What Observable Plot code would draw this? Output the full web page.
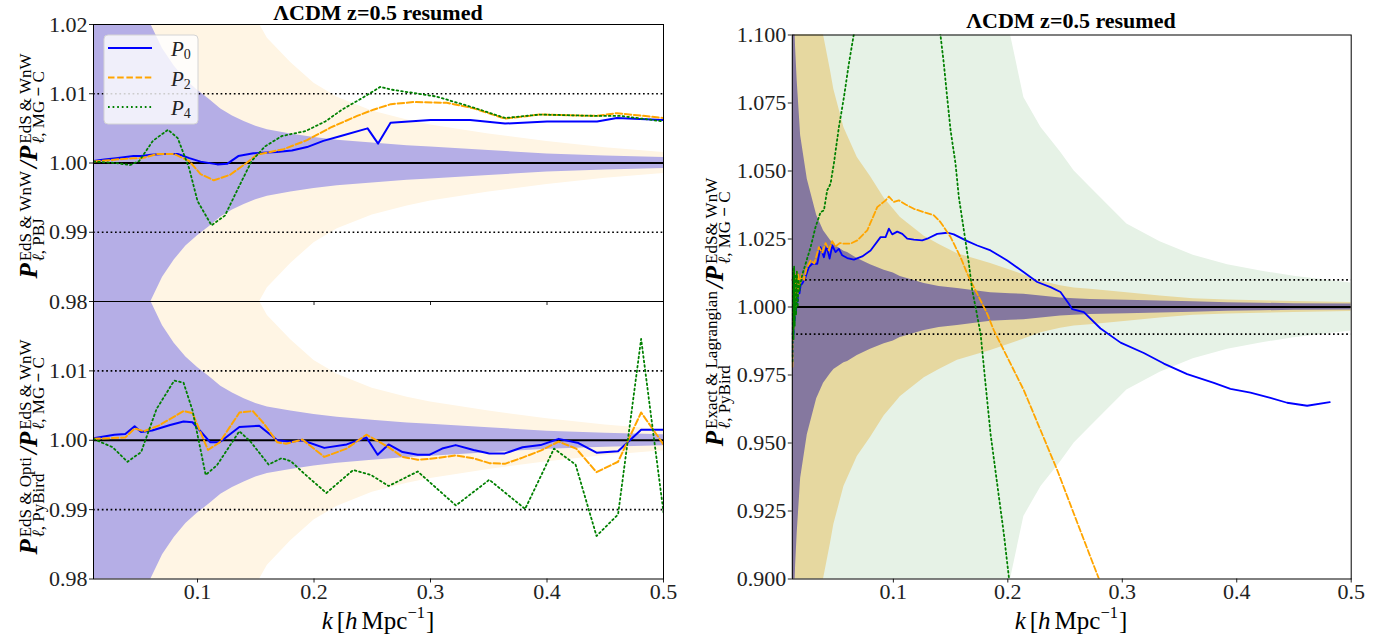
<!DOCTYPE html>
<html><head><meta charset="utf-8">
<script src="https://cdn.jsdelivr.net/npm/d3@7"></script>
<script src="https://cdn.jsdelivr.net/npm/@observablehq/plot@0.6"></script>
<style>
body{margin:0;background:#fff}
#fig{position:relative;width:1395px;height:636px;overflow:hidden;background:#fff}
#fig > svg{position:absolute;left:0;top:0}
</style>
</head><body><div id="fig"></div>
<script>
// ---------------- DATA ----------------
const xTicks = [0.1, 0.2, 0.3, 0.4, 0.5];
const yTicksTop = [0.98, 0.99, 1.00, 1.01, 1.02];
const yTicksBottom = [0.98, 0.99, 1.00, 1.01];
const yTicksRight = [0.900, 0.925, 0.950, 0.975, 1.000, 1.025, 1.050, 1.075, 1.100];
const titleText = "ΛCDM z=0.5 resumed";
const legendNames = ["0", "2", "4"];

// left panels: error bands (half widths around 1)
const kBandL = [0.0107,0.02,0.03,0.04,0.05,0.06,0.07,0.08,0.09,0.10,0.11,0.12,0.13,0.14,0.15,0.16,0.18,0.20,0.22,0.25,0.28,0.30,0.35,0.40,0.45,0.50];
const hwPurpleL = [0.06,0.045,0.036,0.03,0.024,0.020,0.0165,0.014,0.012,0.0105,0.0092,0.0078,0.0068,0.006,0.0053,0.0048,0.0042,0.0037,0.0033,0.0029,0.0025,0.0023,0.0018,0.0013,0.0010,0.0008];
const hwBeigeL = [0.12,0.1,0.085,0.072,0.062,0.054,0.047,0.042,0.037,0.033,0.03,0.027,0.0245,0.0225,0.021,0.018,0.0145,0.0115,0.0095,0.0075,0.0062,0.0055,0.0042,0.0031,0.0022,0.0015];

// right panel: error bands
const kBandR = [0.0117,0.0146,0.016,0.019,0.0248,0.033,0.039,0.045,0.048,0.0568,0.06,0.0685,0.08,0.092,0.1,0.106,0.112,0.127,0.14,0.156,0.185,0.2024,0.214,0.229,0.246,0.258,0.272,0.304,0.333,0.362,0.392,0.421,0.45,0.5];
const hwPurpleR = [0.13,0.095,0.083,0.063,0.047,0.0337,0.028,0.0245,0.023,0.0205,0.020,0.0178,0.0155,0.0135,0.0125,0.0112,0.0105,0.0086,0.0075,0.0068,0.0052,0.0049,0.0047,0.0040,0.0033,0.0030,0.0028,0.0025,0.0022,0.0019,0.0016,0.0014,0.0012,0.0011];
const hwTanR = [0.2,0.18,0.17,0.15,0.13,0.112,0.1,0.087,0.08,0.066,0.063,0.055,0.048,0.04,0.036,0.033,0.031,0.026,0.023,0.0196,0.016,0.0135,0.0118,0.0095,0.0078,0.007,0.0065,0.0052,0.004,0.003,0.0026,0.0023,0.002,0.0017];
const hwGreenR = [0.5,0.45,0.42,0.4,0.38,0.35,0.33,0.31,0.3,0.28,0.27,0.25,0.23,0.2,0.19,0.18,0.17,0.155,0.14,0.13,0.11,0.1,0.077,0.066,0.057,0.05,0.044,0.0305,0.024,0.019,0.0155,0.0132,0.0113,0.0088];

// top-left: PBJ / MG-C
const p0Top = [[0.0107,1.0003],[0.02,1.0005],[0.03,1.0007],[0.04,1.0009],[0.045,1.0010],[0.0516,1.0010],[0.06,1.0012],[0.071,1.0013],[0.083,1.0013],[0.093,1.0007],[0.1026,1.0002],[0.117,0.9998],[0.1257,0.9999],[0.135,1.0010],[0.148,1.0014],[0.168,1.0016],[0.181,1.0018],[0.194,1.0023],[0.208,1.0032],[0.223,1.0039],[0.246,1.0050],[0.255,1.0028],[0.2657,1.0058],[0.3,1.0062],[0.334,1.0062],[0.364,1.0057],[0.40,1.0060],[0.443,1.0060],[0.46,1.0065],[0.5,1.0062]];
const p2Top = [[0.0107,1.0002],[0.03,1.0005],[0.045,1.0007],[0.0526,1.0007],[0.0656,1.0013],[0.0798,1.0013],[0.0927,1.0003],[0.1026,0.9984],[0.114,0.9975],[0.128,0.9983],[0.142,1.0000],[0.151,1.0012],[0.174,1.0020],[0.194,1.0033],[0.214,1.0051],[0.237,1.0068],[0.251,1.0077],[0.266,1.0085],[0.285,1.0088],[0.314,1.0087],[0.337,1.0079],[0.364,1.0064],[0.394,1.0070],[0.443,1.0068],[0.46,1.0072],[0.5,1.0065]];
const p4Top = [[0.0107,1.0002],[0.03,1.0000],[0.042,0.9997],[0.05,1.0003],[0.0617,1.0032],[0.0746,1.0048],[0.083,1.0036],[0.0927,0.9993],[0.1,0.9945],[0.112,0.9910],[0.1235,0.9924],[0.135,0.9964],[0.1465,1.0003],[0.158,1.0024],[0.1725,1.0039],[0.1925,1.0046],[0.2097,1.0060],[0.224,1.0077],[0.2415,1.0094],[0.257,1.0110],[0.266,1.0106],[0.286,1.0101],[0.305,1.0096],[0.337,1.0080],[0.364,1.0065],[0.394,1.0070],[0.443,1.0068],[0.463,1.0068],[0.5,1.0060]];

// bottom-left: PyBird / MG-C
const p0Bot = [[0.0107,1.0003],[0.0286,1.0008],[0.038,1.0009],[0.046,1.0020],[0.0516,1.0012],[0.061,1.0014],[0.0765,1.0022],[0.088,1.0027],[0.0957,1.0026],[0.111,0.9997],[0.119,0.9997],[0.1359,1.0019],[0.153,1.0021],[0.1685,1.0000],[0.18,0.9998],[0.19,1.0000],[0.2088,0.9989],[0.228,0.9994],[0.245,1.0004],[0.2546,0.9979],[0.264,0.9994],[0.276,0.9983],[0.289,0.9979],[0.299,0.9979],[0.310,0.9988],[0.3216,0.9993],[0.337,0.9986],[0.3505,0.9981],[0.3638,0.9981],[0.379,0.9990],[0.3945,0.9993],[0.41,1.0002],[0.427,0.9996],[0.4425,0.9982],[0.461,0.9984],[0.4808,1.0015],[0.5,1.0015]];
const p2Bot = [[0.0107,1.0002],[0.038,1.0004],[0.046,1.0017],[0.054,1.0013],[0.0666,1.0021],[0.088,1.0042],[0.0957,1.0039],[0.109,0.9986],[0.119,0.9997],[0.136,1.0040],[0.1475,1.0042],[0.157,1.0024],[0.1685,0.9997],[0.176,0.9995],[0.19,1.0001],[0.2088,0.9976],[0.228,0.9988],[0.245,1.0008],[0.264,0.9990],[0.276,0.9976],[0.289,0.9972],[0.299,0.9973],[0.3216,0.9978],[0.337,0.9974],[0.3505,0.9967],[0.3638,0.9966],[0.379,0.9975],[0.3945,0.9985],[0.41,0.9998],[0.425,0.9988],[0.4425,0.9954],[0.461,0.9969],[0.4808,1.0040],[0.5,0.9994]];
const p4Bot = [[0.0107,1.0002],[0.027,0.9990],[0.0399,0.9969],[0.0516,0.9983],[0.0648,1.0045],[0.080,1.0086],[0.088,1.0083],[0.0957,1.0043],[0.107,0.9950],[0.1167,0.9964],[0.1359,1.0013],[0.1455,0.9998],[0.161,0.9965],[0.172,0.9974],[0.18,0.9970],[0.1915,0.9952],[0.2106,0.9924],[0.2336,0.9957],[0.2489,0.9950],[0.264,0.9934],[0.289,0.9955],[0.3218,0.9906],[0.3505,0.9943],[0.3812,0.9901],[0.406,0.9988],[0.4245,0.9965],[0.4425,0.9862],[0.461,0.9893],[0.4808,1.0146],[0.5,0.9896]];

// right: Exact & Lagrangian PyBird / MG-C
const p0Right = [[0.0118,0.982],[0.0123,1.010],[0.0128,0.990],[0.0133,1.012],[0.0138,0.995],[0.0143,1.008],[0.0150,0.998],[0.0157,1.010],[0.0164,1.002],[0.0172,1.012],[0.018,1.005],[0.019,1.008],[0.0204,1.0086],[0.0233,1.0110],[0.0262,1.0147],[0.0291,1.0159],[0.0335,1.0159],[0.0364,1.0220],[0.0393,1.0183],[0.0417,1.0223],[0.0443,1.0178],[0.0466,1.0226],[0.0495,1.0202],[0.0524,1.0214],[0.0553,1.0190],[0.0597,1.0180],[0.0655,1.0174],[0.0728,1.0186],[0.0801,1.0208],[0.0888,1.0257],[0.0932,1.0257],[0.0961,1.0288],[0.099,1.0267],[0.1034,1.0277],[0.1078,1.0269],[0.1121,1.0251],[0.1179,1.0248],[0.1252,1.0245],[0.1296,1.0251],[0.1383,1.0269],[0.1471,1.0273],[0.1528,1.0267],[0.1646,1.0242],[0.1733,1.0226],[0.1849,1.0208],[0.1995,1.0171],[0.214,1.0128],[0.2257,1.0092],[0.2373,1.0073],[0.246,1.0055],[0.2533,1.0012],[0.2563,0.9992],[0.2664,0.9981],[0.281,0.9921],[0.2985,0.9869],[0.3188,0.9831],[0.3363,0.9792],[0.3567,0.9753],[0.380,0.9721],[0.3945,0.9699],[0.412,0.9685],[0.4294,0.9666],[0.444,0.9648],[0.4615,0.9637],[0.4813,0.9650]];
const p2Right = [[0.0118,0.978],[0.0123,1.013],[0.0128,0.992],[0.0133,1.014],[0.0138,0.997],[0.0143,1.012],[0.015,1.000],[0.0157,1.013],[0.0164,1.004],[0.0172,1.012],[0.018,1.008],[0.019,1.010],[0.02,1.012],[0.022,1.010],[0.024,1.014],[0.0277,1.0171],[0.031,1.0160],[0.0349,1.0220],[0.0378,1.0200],[0.0408,1.0235],[0.0437,1.0208],[0.0466,1.0242],[0.0495,1.0223],[0.0533,1.0235],[0.0568,1.0233],[0.0626,1.0233],[0.0685,1.0245],[0.0772,1.0282],[0.0859,1.0367],[0.0932,1.0392],[0.0961,1.0406],[0.1004,1.0386],[0.1048,1.0392],[0.1107,1.0377],[0.1179,1.0361],[0.1266,1.0349],[0.1354,1.0337],[0.1412,1.0312],[0.15,1.0257],[0.1587,1.0183],[0.1646,1.0122],[0.1703,1.0073],[0.1762,1.0024],[0.182,0.9975],[0.1878,0.9914],[0.1995,0.9816],[0.214,0.9694],[0.2286,0.9547],[0.2432,0.9400],[0.2577,0.9240],[0.2722,0.9081],[0.2815,0.8980]];
const p4Right = [[0.0118,0.980],[0.0123,1.014],[0.0128,0.988],[0.0133,1.015],[0.0138,0.993],[0.0143,1.012],[0.015,0.997],[0.0157,1.013],[0.0164,1.000],[0.0172,1.010],[0.018,1.006],[0.019,1.009],[0.0205,1.012],[0.0233,1.0159],[0.0277,1.0220],[0.032,1.0294],[0.0364,1.0349],[0.0393,1.0355],[0.0422,1.0429],[0.0451,1.0453],[0.048,1.0527],[0.0524,1.0661],[0.0568,1.0771],[0.0611,1.0894],[0.0655,1.1004],[0.075,1.12],[0.09,1.15],[0.105,1.16],[0.12,1.15],[0.133,1.125],[0.1412,1.0998],[0.1441,1.0894],[0.147,1.0771],[0.15,1.0649],[0.1543,1.0527],[0.1572,1.0404],[0.1616,1.0282],[0.166,1.0159],[0.1689,1.0061],[0.1718,1.0000],[0.1762,0.9902],[0.1805,0.9718],[0.1849,0.9534],[0.1907,0.9350],[0.1965,0.9167],[0.2009,0.9007],[0.203,0.895]];

// ---------------- RENDER ----------------
const FONT = "'Liberation Serif', 'Times New Roman', serif";
const fig = document.getElementById("fig");
const band = (ks, hw) => ks.map((k, i) => [k, hw[i]]);
const DOT = "1.7,2.9";
const DASH = "6.5,2.7";

function panel(cfg) {
  const marks = [];
  for (const b of cfg.bands) {
    marks.push(Plot.areaY(b.data, {x: d => d[0], y1: d => 1 - d[1], y2: d => 1 + d[1], fill: b.fill, clip: true}));
  }
  marks.push(Plot.ruleY([0.99, 1.01], {stroke: "black", strokeWidth: 1.7, strokeDasharray: "1.7,2.7"}));
  marks.push(Plot.ruleY([1], {stroke: "black", strokeWidth: 2}));
  for (const s of cfg.series) {
    marks.push(Plot.line(s.data, {x: d => d[0], y: d => d[1], stroke: s.color, strokeWidth: s.w, strokeDasharray: s.dash, clip: true}));
  }
  marks.push(Plot.frame({stroke: "black", strokeWidth: 1}));
  const svg = Plot.plot({
    width: cfg.width, height: 636,
    marginLeft: cfg.ml, marginRight: cfg.mr, marginTop: cfg.mt, marginBottom: cfg.mb,
    x: {domain: cfg.xdomain, ticks: xTicks, tickSize: 4, tickPadding: 0, label: null,
        tickFormat: cfg.xlabels ? d3.format(".1f") : () => ""},
    y: {domain: cfg.ydomain, ticks: cfg.yticks, tickSize: 4, tickPadding: 2, label: null,
        tickFormat: d3.format(cfg.yfmt)},
    marks,
    style: {background: "transparent", overflow: "visible"}
  });
  svg.style.position = "absolute";
  svg.style.left = cfg.left + "px";
  svg.style.top = "0px";
  svg.style.background = "transparent";
  svg.style.overflow = "visible";
  svg.style.fontFamily = FONT;
  svg.style.fontSize = "22px";
  svg.style.color = "#222";
  svg.setAttribute("font-family", FONT);
  svg.setAttribute("font-size", "22");
  svg.querySelectorAll("text").forEach(t => {
    t.style.fontFamily = FONT;
    t.style.fontSize = "22px";
    t.setAttribute("fill", "#222");
  });
  fig.appendChild(svg);
}

const seriesStyle = (p0, p2, p4) => [
  {data: p0, color: "#0000ff", w: 2},
  {data: p2, color: "#ffa500", w: 2, dash: DASH},
  {data: p4, color: "#008000", w: 1.8, dash: DOT}
];

panel({left: 0, width: 700, ml: 93, mr: 37, mt: 24, mb: 335, xdomain: [0.0107, 0.5], xlabels: false,
  ydomain: [0.98, 1.02], yticks: yTicksTop, yfmt: ".2f",
  bands: [{data: band(kBandL, hwBeigeL), fill: "#fff5e4"}, {data: band(kBandL, hwPurpleL), fill: "#b5aee6"}],
  series: seriesStyle(p0Top, p2Top, p4Top)});
panel({left: 0, width: 700, ml: 93, mr: 37, mt: 301, mb: 57.5, xdomain: [0.0107, 0.5], xlabels: true,
  ydomain: [0.98, 1.02], yticks: yTicksBottom, yfmt: ".2f",
  bands: [{data: band(kBandL, hwBeigeL), fill: "#fff5e4"}, {data: band(kBandL, hwPurpleL), fill: "#b5aee6"}],
  series: seriesStyle(p0Bot, p2Bot, p4Bot)});
panel({left: 700, width: 695, ml: 91.8, mr: 44.3, mt: 34.5, mb: 57.5, xdomain: [0.0117, 0.5], xlabels: true,
  ydomain: [0.9, 1.1], yticks: yTicksRight, yfmt: ".3f",
  bands: [{data: band(kBandR, hwGreenR), fill: "#e6f2e6"}, {data: band(kBandR, hwTanR), fill: "#e6d8a0"}, {data: band(kBandR, hwPurpleR), fill: "#85789f"}],
  series: [
    {data: p0Right, color: "#0000ff", w: 1.8},
    {data: p2Right, color: "#ffa500", w: 1.8, dash: "6,2.6"},
    {data: p4Right, color: "#008000", w: 1.8, dash: DOT}
  ]});

// ---------------- OVERLAY TEXT ----------------
const ov = d3.select(fig).append("svg").attr("width", 1395).attr("height", 636)
  .style("position", "absolute").style("left", "0px").style("top", "0px")
  .style("pointer-events", "none").attr("font-family", FONT);

function mathText(x, y, angle, runs) {
  const g = ov.append("g").attr("transform", `translate(${x},${y}) rotate(${angle})`);
  const inner = g.append("g");
  let cx = 0;
  const addText = (parts, px, py, size) => {
    const t = inner.append("text").attr("x", px).attr("y", py).attr("font-size", size).attr("fill", "black");
    for (const p of parts) {
      t.append("tspan").attr("font-style", p.i ? "italic" : "normal").attr("font-weight", p.b ? "bold" : "normal").text(p.t);
    }
    return t.node().getComputedTextLength();
  };
  for (const r of runs) {
    cx += r.gap || 0;
    if (r.stack) {
      const w1 = r.sup ? addText(r.sup, cx, r.supDy, r.s) : 0;
      const w2 = r.sub ? addText(r.sub, cx, r.subDy, r.s) : 0;
      cx += Math.max(w1, w2);
    } else {
      cx += addText([r], cx, r.dy || 0, r.s);
    }
  }
  inner.attr("transform", `translate(${-cx / 2},0)`);
}

const PL = (sup, sub, gapSlash) => [
  {t: "P", s: 25, i: 1, b: 1},
  {stack: 1, s: 17, gap: 2, supDy: -6, subDy: 7, sup: [{t: sup[0]}], sub: [{t: "ℓ", i: 1}, {t: sub[0]}]},
  {t: "/", s: 25, i: 1, b: 1, gap: gapSlash},
  {t: "P", s: 25, i: 1, b: 1, gap: 0},
  {stack: 1, s: 17, gap: 2, supDy: -6, subDy: 7, sup: [{t: sup[1]}], sub: [{t: "ℓ", i: 1}, {t: ", MG"}, {t: " − ", b: 1}, {t: "C"}]}
];

mathText(37, 166, -90, PL(["EdS & WnW", "EdS & WnW"], [", PBJ"], 3));
mathText(37, 447, -90, PL(["EdS & Opti", "EdS & WnW"], [", PyBird"], 3));
mathText(723, 312, -90, PL(["Exact & Lagrangian", "EdS& WnW"], [", PyBird"], 3));

const XL = [
  {t: "k", s: 25, i: 1},
  {t: "[", s: 25, gap: 4},
  {t: "h", s: 25, i: 1},
  {t: "Mpc", s: 25, gap: 4},
  {t: "−1", s: 16.5, dy: -11},
  {t: "]", s: 25, gap: 1}
];
mathText(378, 629, 0, XL);
mathText(1071, 629, 0, XL);

// titles
ov.append("text").attr("x", 378).attr("y", 19.5).attr("text-anchor", "middle")
  .attr("font-size", 22).attr("font-weight", "bold").text(titleText);
ov.append("text").attr("x", 1071).attr("y", 28).attr("text-anchor", "middle")
  .attr("font-size", 22).attr("font-weight", "bold").text(titleText);

// legend
const lg = ov.append("g");
lg.append("rect").attr("x", 104).attr("y", 35).attr("width", 94).attr("height", 89).attr("rx", 4)
  .attr("fill", "white").attr("fill-opacity", 0.8).attr("stroke", "#d4d4d4");
const legStyles = [
  {color: "#0000ff", dash: null},
  {color: "#ffa500", dash: DASH},
  {color: "#008000", dash: DOT}
];
legendNames.forEach((n, i) => {
  const yy = 48 + i * 29.5;
  lg.append("line").attr("x1", 108).attr("x2", 152).attr("y1", yy).attr("y2", yy)
    .attr("stroke", legStyles[i].color).attr("stroke-width", 2).attr("stroke-dasharray", legStyles[i].dash);
  const t = lg.append("text").attr("x", 171).attr("y", yy + 8).attr("fill", "#222");
  t.append("tspan").attr("font-size", 21).attr("font-style", "italic").text("P");
  t.append("tspan").attr("font-size", 14).attr("dy", 3).text(n);
});
</script>
</body></html>
